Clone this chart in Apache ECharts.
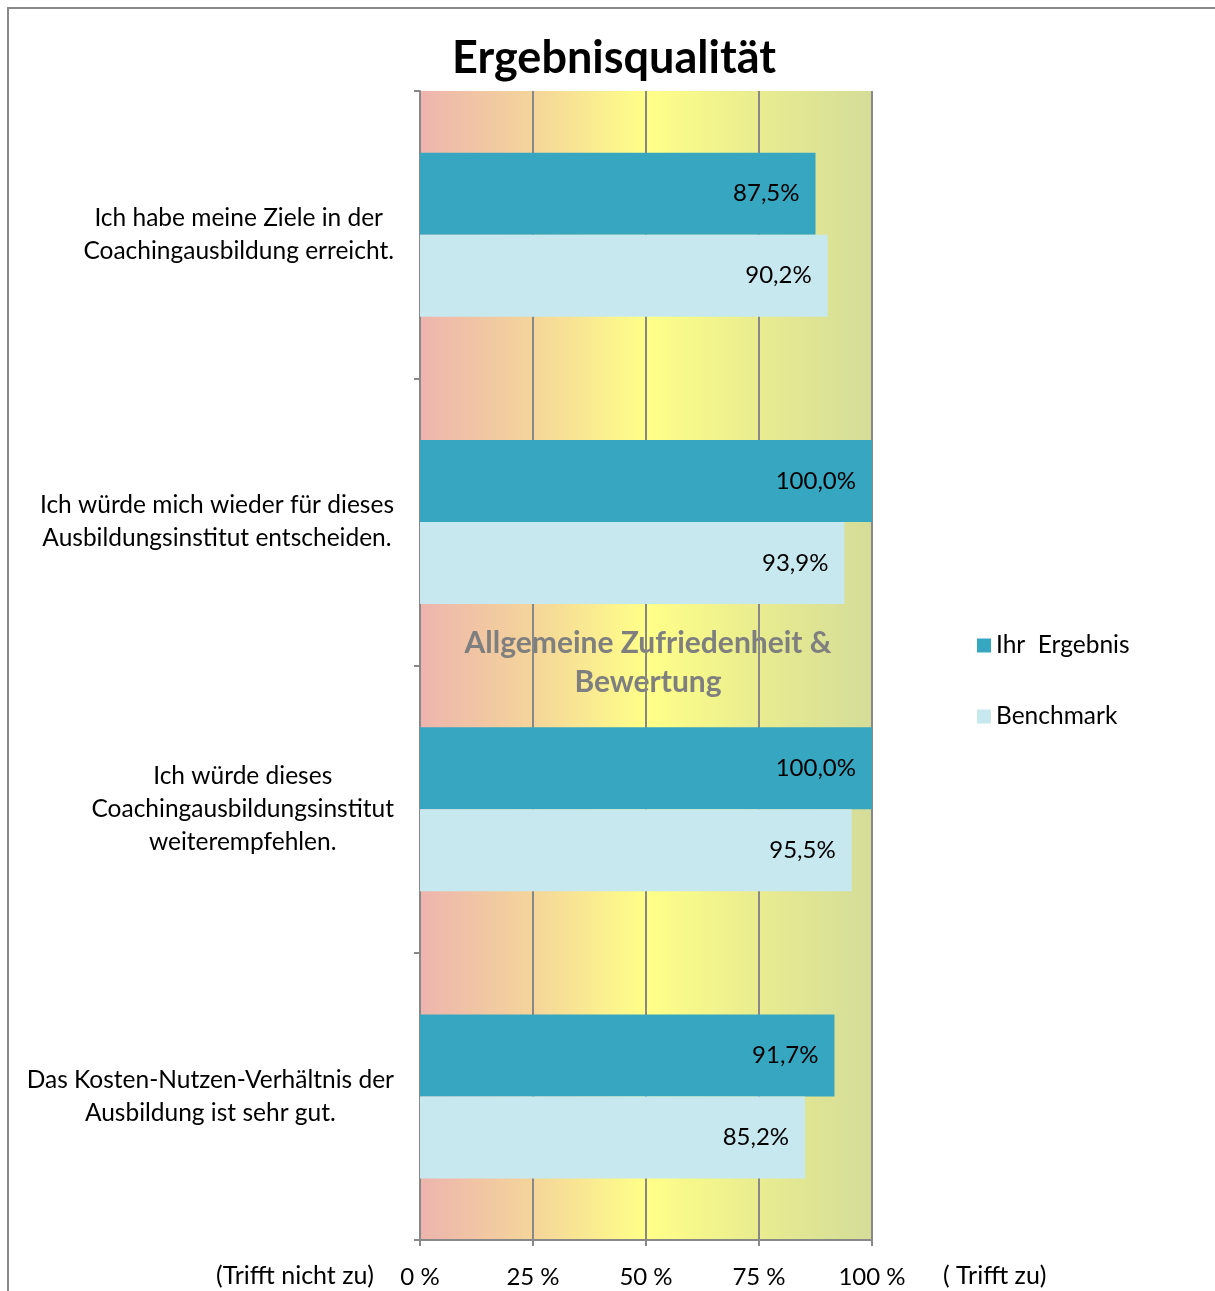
<!DOCTYPE html>
<html>
<head>
<meta charset="utf-8">
<script src="https://cdn.jsdelivr.net/npm/echarts@6/dist/echarts.min.js"></script>
<style>
  html, body { margin: 0; padding: 0; background: #fff; }
  #chart { width: 1215px; height: 1291px; }
</style>
</head>
<body>
<div id="chart"></div>
<script>
const categories = [
    ['Ich habe meine Ziele in der', 'Coachingausbildung erreicht.'],
    ['Ich würde mich wieder für dieses', 'Ausbildungsinstitut entscheiden.'],
    ['Ich würde dieses', 'Coachingausbildungsinstitut', 'weiterempfehlen.'],
    ['Das Kosten-Nutzen-Verhältnis der', 'Ausbildung ist sehr gut.']
];
const ihrErgebnis = [87.5, 100.0, 100.0, 91.7];
const benchmark = [90.2, 93.9, 95.5, 85.2];
const xTicks = [0, 25, 50, 75, 100];

const FONT = 'Lato';
const chartDom = document.getElementById('chart');
const myChart = echarts.init(chartDom);

const fmtPct = v => v.toFixed(1).replace('.', ',') + '%';

const barLabel = {
    show: true,
    position: 'insideRight',
    distance: 16,
    fontSize: 24,
    color: '#000',
    fontFamily: FONT,
    formatter: p => fmtPct(p.value)
};

const option = {
    textStyle: { fontFamily: FONT },
    animation: false,
    title: {
        text: 'Ergebnisqualität',
        left: 609,
        top: 31,
        textAlign: 'center',
        textStyle: { fontSize: 45, fontWeight: 'bold', color: '#000', fontFamily: FONT }
    },
    legend: {
        orient: 'vertical',
        left: 972,
        top: 628,
        itemWidth: 14,
        itemHeight: 14,
        itemGap: 46,
        icon: 'rect',
        textStyle: { fontSize: 24.5, color: '#000', fontFamily: FONT },
        data: ['Ihr  Ergebnis', 'Benchmark']
    },
    grid: {
        left: 420,
        right: 343,
        top: 91,
        bottom: 51,
        show: true,
        borderWidth: 0,
        backgroundColor: new echarts.graphic.LinearGradient(0, 0, 1, 0, [
            { offset: 0, color: '#EDB4AE' },
            { offset: 0.25, color: '#F4D59A' },
            { offset: 0.5, color: '#FFFF88' },
            { offset: 0.75, color: '#E9EC8F' },
            { offset: 1, color: '#D4DC99' }
        ])
    },
    xAxis: {
        type: 'value',
        min: xTicks[0],
        max: xTicks[xTicks.length - 1],
        interval: 25,
        axisLine: { show: true, lineStyle: { color: '#888', width: 2 } },
        axisTick: { show: true, length: 6, lineStyle: { color: '#888', width: 2 } },
        splitLine: { show: true, lineStyle: { color: '#888', width: 2 } },
        axisLabel: {
            fontSize: 24,
            color: '#000',
            margin: 25,
            formatter: v => v + ' %'
        }
    },
    yAxis: {
        type: 'category',
        inverse: true,
        data: categories.map(c => c.join('\n')),
        axisLine: { show: true, lineStyle: { color: '#888', width: 2 } },
        axisTick: { show: true, length: 6, lineStyle: { color: '#888', width: 2 } },
        axisLabel: {
            margin: 26,
            color: '#000',
            formatter: v => v.split('\n').map(s => '{c|' + s + '}').join('\n'),
            rich: {
                c: { fontSize: 24.5, lineHeight: 33, align: 'center', color: '#000', fontFamily: FONT }
            }
        }
    },
    graphic: [
        {
            type: 'rect',
            z: -10,
            silent: true,
            shape: { x: 8, y: 8, width: 1300, height: 1400 },
            style: { fill: 'none', stroke: '#888', lineWidth: 2 }
        },
        {
            type: 'text',
            silent: true,
            x: 648,
            y: 624,
            style: {
                text: 'Allgemeine Zufriedenheit &\nBewertung',
                align: 'center',
                verticalAlign: 'top',
                fill: '#7f7f7f',
                font: 'bold 30px ' + FONT,
                lineHeight: 39
            }
        },
        {
            type: 'text',
            silent: true,
            x: 216,
            y: 1263,
            style: { text: '(Trifft nicht zu)', fill: '#000', font: '25px ' + FONT }
        },
        {
            type: 'text',
            silent: true,
            x: 943,
            y: 1263,
            style: { text: '( Trifft zu)', fill: '#000', font: '25px ' + FONT }
        }
    ],
    series: [
        {
            name: 'Ihr  Ergebnis',
            type: 'bar',
            data: ihrErgebnis,
            barWidth: 82,
            barGap: '0%',
            itemStyle: { color: '#37A6C0' },
            label: barLabel
        },
        {
            name: 'Benchmark',
            type: 'bar',
            data: benchmark,
            barWidth: 82,
            barGap: '0%',
            itemStyle: { color: '#C7E8EF' },
            label: barLabel
        }
    ]
};

option && myChart.setOption(option);
</script>
</body>
</html>
